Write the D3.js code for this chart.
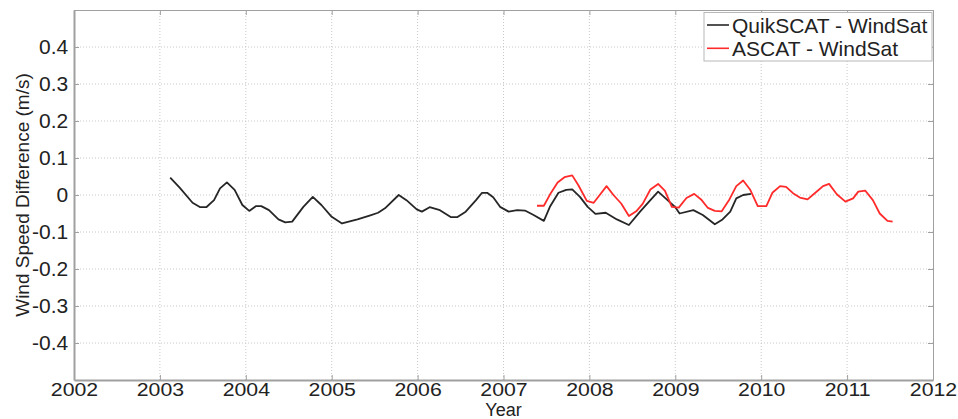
<!DOCTYPE html>
<html>
<head>
<meta charset="utf-8">
<script src="https://cdn.jsdelivr.net/npm/d3@7"></script>
<style>
  body { margin: 0; background: #fff; }
  svg text { font-family: "Liberation Sans", Arial, sans-serif; fill: #222; }
  .grid line { stroke: #c8c8c8; stroke-dasharray: 1,2; }
  .axis path, .axis line { stroke: #a0a0a0; }
</style>
</head>
<body>
<svg id="chart" width="958" height="419"></svg>
<script>
// QuikSCAT - WindSat (decimal year, m/s)
const quikYears = [2003.12, 2003.23, 2003.38, 2003.47, 2003.54, 2003.63, 2003.70, 2003.78, 2003.87, 2003.96,
  2004.04, 2004.12, 2004.18, 2004.27, 2004.38, 2004.46, 2004.54, 2004.67, 2004.78, 2004.88,
  2005.00, 2005.12, 2005.30, 2005.45, 2005.54, 2005.62, 2005.78, 2005.87, 2005.99,
  2006.05, 2006.14, 2006.26, 2006.39, 2006.46, 2006.56, 2006.68, 2006.75, 2006.81, 2006.88, 2006.96,
  2007.06, 2007.16, 2007.25, 2007.35, 2007.47, 2007.54, 2007.64, 2007.73, 2007.80, 2007.89, 2007.98,
  2008.07, 2008.19, 2008.32, 2008.46, 2008.59, 2008.71, 2008.80, 2008.90,
  2009.00, 2009.05, 2009.21, 2009.32, 2009.46, 2009.55, 2009.64, 2009.71, 2009.79, 2009.88];
const quikDiff = [0.047, 0.020, -0.021, -0.033, -0.033, -0.014, 0.018, 0.034, 0.014, -0.027,
  -0.043, -0.030, -0.030, -0.041, -0.066, -0.074, -0.072, -0.032, -0.005, -0.027,
  -0.059, -0.077, -0.066, -0.055, -0.048, -0.036, 0.000, -0.014, -0.039,
  -0.045, -0.033, -0.041, -0.060, -0.060, -0.045, -0.014, 0.006, 0.006, -0.006, -0.032,
  -0.045, -0.041, -0.042, -0.054, -0.070, -0.032, 0.006, 0.014, 0.015, -0.005, -0.032,
  -0.051, -0.048, -0.066, -0.081, -0.045, -0.014, 0.009, -0.012,
  -0.033, -0.050, -0.041, -0.054, -0.079, -0.066, -0.045, -0.009, 0.000, 0.003];

// ASCAT - WindSat
const ascatYears = [2007.39, 2007.47, 2007.55, 2007.63, 2007.71, 2007.80, 2007.87, 2007.97,
  2008.05, 2008.12, 2008.20, 2008.28, 2008.37, 2008.46, 2008.55, 2008.62, 2008.71, 2008.80, 2008.88, 2008.96,
  2009.04, 2009.13, 2009.22, 2009.30, 2009.38, 2009.46, 2009.54, 2009.63, 2009.71, 2009.79, 2009.87, 2009.96,
  2010.06, 2010.13, 2010.22, 2010.29, 2010.37, 2010.45, 2010.54, 2010.63, 2010.72, 2010.79, 2010.88, 2010.98,
  2011.07, 2011.13, 2011.21, 2011.30, 2011.38, 2011.47, 2011.53];
const ascatDiff = [-0.029, -0.029, 0.005, 0.034, 0.048, 0.053, 0.027, -0.016,
  -0.021, 0.000, 0.024, 0.000, -0.023, -0.057, -0.043, -0.024, 0.015, 0.030, 0.011, -0.032,
  -0.034, -0.008, 0.003, -0.012, -0.035, -0.043, -0.044, -0.012, 0.024, 0.039, 0.015, -0.030,
  -0.030, 0.006, 0.024, 0.022, 0.005, -0.007, -0.012, 0.006, 0.024, 0.030, 0.002, -0.018,
  -0.009, 0.009, 0.012, -0.014, -0.050, -0.070, -0.072];

const xTicks = [2002, 2003, 2004, 2005, 2006, 2007, 2008, 2009, 2010, 2011, 2012];
const yTicks = [-0.4, -0.3, -0.2, -0.1, 0, 0.1, 0.2, 0.3, 0.4];
const yTickLabels = ["-0.4", "-0.3", "-0.2", "-0.1", "0", "0.1", "0.2", "0.3", "0.4"];
const seriesNames = ["QuikSCAT - WindSat", "ASCAT - WindSat"];
const seriesColors = ["#262626", "#ff2a2a"];

let margin = {left: 74, top: 10, right: 25, bottom: 39};
let svg = d3.select("#chart");
let W = +svg.attr("width"), H = +svg.attr("height");
let w = W - margin.left - margin.right, h = H - margin.top - margin.bottom;

let x = d3.scaleLinear().domain([2002, 2012]).range([0, w]);
let y = d3.scaleLinear().domain([-0.5, 0.5]).range([h, 0]);

let g = svg.append("g").attr("transform", "translate(" + margin.left + "," + margin.top + ")");

// dotted grid
g.append("g").attr("class", "grid")
  .selectAll("line").data(xTicks.slice(1, -1)).enter().append("line")
  .attr("x1", d => x(d)).attr("x2", d => x(d)).attr("y1", 0).attr("y2", h);
g.append("g").attr("class", "grid")
  .selectAll("line").data(yTicks).enter().append("line")
  .attr("x1", 0).attr("x2", w).attr("y1", d => y(d)).attr("y2", d => y(d));

// axes: ticks point inward like the matlab box
let xAxis = g.append("g").attr("class", "axis").attr("transform", "translate(0," + h + ")")
  .call(d3.axisBottom(x).tickValues(xTicks).tickFormat(d3.format("d"))
    .tickSizeInner(-5).tickSizeOuter(0).tickPadding(2.5));
let yAxis = g.append("g").attr("class", "axis")
  .call(d3.axisLeft(y).tickValues(yTicks).tickFormat((d, i) => yTickLabels[i])
    .tickSizeInner(-5).tickSizeOuter(0).tickPadding(5.5));
g.append("g").attr("class", "axis")
  .call(d3.axisTop(x).tickValues(xTicks).tickFormat("").tickSizeInner(-5).tickSizeOuter(0));
g.append("g").attr("class", "axis").attr("transform", "translate(" + w + ",0)")
  .call(d3.axisRight(y).tickValues(yTicks).tickFormat("").tickSizeInner(-5).tickSizeOuter(0));
xAxis.select(".domain").attr("stroke-width", 2);
yAxis.select(".domain").attr("stroke-width", 2);

// the source figure's lettering is a little wider than Arial
xAxis.selectAll("text").style("font-size", "18.5px").attr("transform", "scale(1.15,1)");
yAxis.selectAll("text").style("font-size", "20px").attr("transform", "scale(1.05,1)");

// lines
let line = d3.line().x(d => x(d[0])).y(d => y(d[1]));
let series = [d3.zip(quikYears, quikDiff), d3.zip(ascatYears, ascatDiff)];
g.selectAll("path.series").data(series).enter().append("path")
  .attr("class", "series")
  .attr("fill", "none")
  .attr("stroke", (d, i) => seriesColors[i])
  .attr("stroke-width", 1.8)
  .attr("stroke-linejoin", "round")
  .attr("d", line);

// axis labels
svg.append("text")
  .attr("x", margin.left + w / 2).attr("y", 415.5)
  .attr("text-anchor", "middle").style("font-size", "18px")
  .text("Year");
svg.append("text")
  .attr("transform", "translate(29," + (margin.top + h / 2) + ") rotate(-90)")
  .attr("text-anchor", "middle").style("font-size", "19px")
  .text("Wind Speed Difference (m/s)");

// legend
let lg = svg.append("g").attr("transform", "translate(704,12.5)");
lg.append("rect").attr("width", 228).attr("height", 48.5)
  .attr("fill", "#fff").attr("stroke", "#b8b8b8");
let items = lg.selectAll("g.item").data(seriesNames).enter().append("g")
  .attr("transform", (d, i) => "translate(0," + (12.5 + i * 23.3) + ")");
items.append("line").attr("x1", 3).attr("x2", 25).attr("y1", 0).attr("y2", 0)
  .attr("stroke", (d, i) => seriesColors[i]).attr("stroke-width", 1.6);
items.append("text").attr("x", 28).attr("y", 7.5)
  .style("font-size", "21px").text(d => d);
</script>
</body>
</html>
